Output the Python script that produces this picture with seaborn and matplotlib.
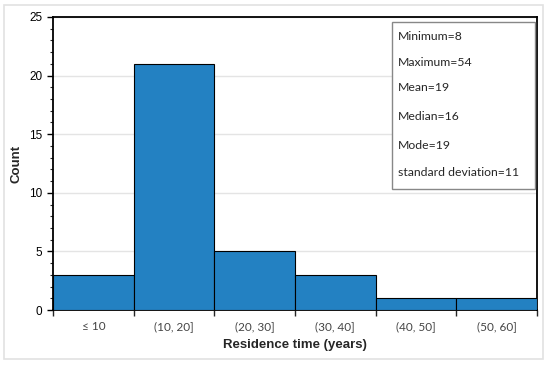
import matplotlib
matplotlib.use("Agg")
import matplotlib.pyplot as plt
from matplotlib.patches import Rectangle
from matplotlib.ticker import MultipleLocator
import numpy as np
import pandas as pd
import seaborn as sns

# data
categories = ["\u2264 10", "(10, 20]", "(20, 30]", "(30, 40]", "(40, 50]", "(50, 60]"]
counts = [3, 21, 5, 3, 1, 1]
stats_lines = ["Minimum=8", "Maximum=54", "Mean=19", "Median=16", "Mode=19",
               "standard deviation=11"]

sns.set_style("white")
plt.rcParams["font.family"] = ["Liberation Sans", "DejaVu Sans"]

df = pd.DataFrame({"bin": categories, "count": counts})

fig = plt.figure(figsize=(5.5, 3.66), dpi=100)
ax = fig.add_axes([0.0964, 0.153, 0.88, 0.8006])

sns.barplot(data=df, x="bin", y="count", color="#2381c2", width=1.0,
            edgecolor="black", linewidth=0.8, saturation=1, ax=ax, zorder=3)

ax.set_xlim(-0.5, len(categories) - 0.5)
ax.set_ylim(0, 25)

# grid
ax.yaxis.set_major_locator(MultipleLocator(5))
ax.yaxis.set_minor_locator(MultipleLocator(1))
ax.grid(axis="y", which="major", color="#e4e4e4", linewidth=1, zorder=0)
ax.set_axisbelow(True)

for s in ax.spines.values():
    s.set_color("black")
    s.set_linewidth(1.3)
    s.set_visible(True)

ax.tick_params(axis="y", which="major", direction="out", length=4, width=1,
               labelsize=8.5, colors="black", left=True)
ax.tick_params(axis="y", which="minor", direction="out", length=2, width=0.8, left=True)

# x labels at centres, ticks at the bin edges
ax.set_xticks(np.arange(len(categories)))
ax.set_xticklabels(categories, family=["Lato", "DejaVu Sans"], color="#444444")
ax.set_xticks(np.arange(len(categories) + 1) - 0.5, minor=True)
ax.tick_params(axis="x", which="major", length=0, labelsize=8.5, pad=8)
ax.tick_params(axis="x", which="minor", direction="out", length=4, width=1, bottom=True)

ax.set_xlabel("Residence time (years)", fontsize=9.5, fontweight="bold", labelpad=5)
ax.set_ylabel("Count", fontsize=9.5, fontweight="bold", labelpad=5)

# statistics box
ax.add_patch(Rectangle((0.700, 0.413), 0.296, 0.570, transform=ax.transAxes,
                       facecolor="white", edgecolor="#888888", linewidth=1, zorder=5))
ys = [0.935, 0.846, 0.758, 0.659, 0.560, 0.468]
for y, txt in zip(ys, stats_lines):
    ax.text(0.713, y, txt, transform=ax.transAxes, fontsize=8.8, va="center",
            ha="left", family=["Lato", "DejaVu Sans"], zorder=6)

# light outer frame
fig.patches.append(Rectangle((4 / 550, 1 - 359 / 366), 539 / 550, 354 / 366,
                             transform=fig.transFigure, fill=False,
                             edgecolor="#e2e2e2", linewidth=1.2))

fig.savefig("out.png", dpi=100)
